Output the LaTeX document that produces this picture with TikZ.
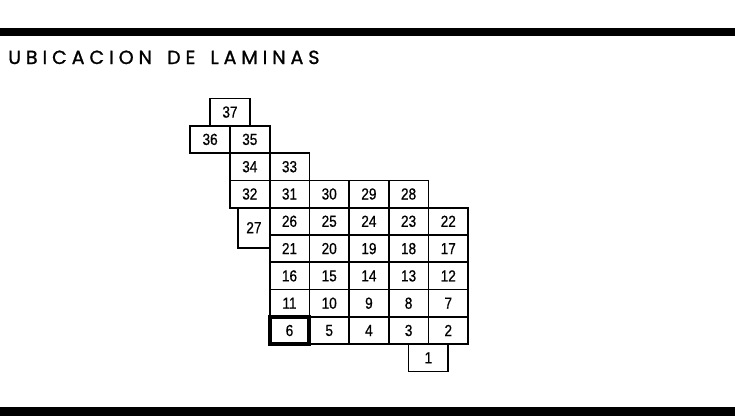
\documentclass[tikz,border=0pt]{standalone}
\usepackage{fontspec}
\newfontfamily\titlefont[LetterSpace=26, FakeBold=1.2]{Poppins}
\newfontfamily\numfont[FakeStretch=0.85, FakeBold=0.6]{Liberation Sans}
\usetikzlibrary{positioning}
\tikzset{
  sheet/.style={
    rectangle, draw=black, line width=1.7pt,
    minimum width=39.7pt, minimum height=27.3pt,
    inner sep=0pt, outer sep=0pt,
    font=\numfont\fontsize{16}{16}\selectfont
  },
  sheetsel/.style={sheet, line width=3.8pt},
  framebar/.style={fill=black},
  sheettitle/.style={font=\titlefont\fontsize{19}{19}\selectfont, anchor=base west, inner sep=0pt},
}

\begin{document}
\begin{tikzpicture}[x=1pt, y=1pt, node distance=0pt and 0pt]
  \useasboundingbox (0,0) rectangle (735,416);
  \fill[framebar] (0,380) rectangle (735,388);
  \fill[framebar] (0,0) rectangle (735,9);
  \node (title) [sheettitle] at (8,352) {UBICACION\hspace{0.8em}DE\hspace{0.8em}LAMINAS};
  % main block
  \node (s26) [sheet] at (289.5,194.7) {26};
  \node (s25) [sheet, right=of s26] {25};
  \node (s24) [sheet, right=of s25] {24};
  \node (s23) [sheet, right=of s24] {23};
  \node (s22) [sheet, right=of s23] {22};
  \node (s21) [sheet, below=of s26] {21};
  \node (s20) [sheet, right=of s21] {20};
  \node (s19) [sheet, right=of s20] {19};
  \node (s18) [sheet, right=of s19] {18};
  \node (s17) [sheet, right=of s18] {17};
  \node (s16) [sheet, below=of s21] {16};
  \node (s15) [sheet, right=of s16] {15};
  \node (s14) [sheet, right=of s15] {14};
  \node (s13) [sheet, right=of s14] {13};
  \node (s12) [sheet, right=of s13] {12};
  \node (s11) [sheet, below=of s16] {11};
  \node (s10) [sheet, right=of s11] {10};
  \node (s9)  [sheet, right=of s10] {9};
  \node (s8)  [sheet, right=of s9]  {8};
  \node (s7)  [sheet, right=of s8]  {7};
  \node (s6)  [sheetsel, below=of s11] {6};
  \node (s5)  [sheet, right=of s6] {5};
  \node (s4)  [sheet, right=of s5] {4};
  \node (s3)  [sheet, right=of s4] {3};
  \node (s2)  [sheet, right=of s3] {2};
  \node (s1)  [sheet, below=of s3.south east] {1};
  % upper steps
  \node (s31) [sheet, above=of s26] {31};
  \node (s30) [sheet, right=of s31] {30};
  \node (s29) [sheet, right=of s30] {29};
  \node (s28) [sheet, right=of s29] {28};
  \node (s32) [sheet, left=of s31] {32};
  \node (s27) [sheet, minimum width=31.5pt, minimum height=40pt, anchor=north east] at (s32.south east) {27};
  \node (s34) [sheet, above=of s32] {34};
  \node (s33) [sheet, right=of s34] {33};
  \node (s35) [sheet, above=of s34] {35};
  \node (s36) [sheet, left=of s35] {36};
  \node (s37) [sheet, above=of s36.north east] {37};
\end{tikzpicture}
\end{document}
